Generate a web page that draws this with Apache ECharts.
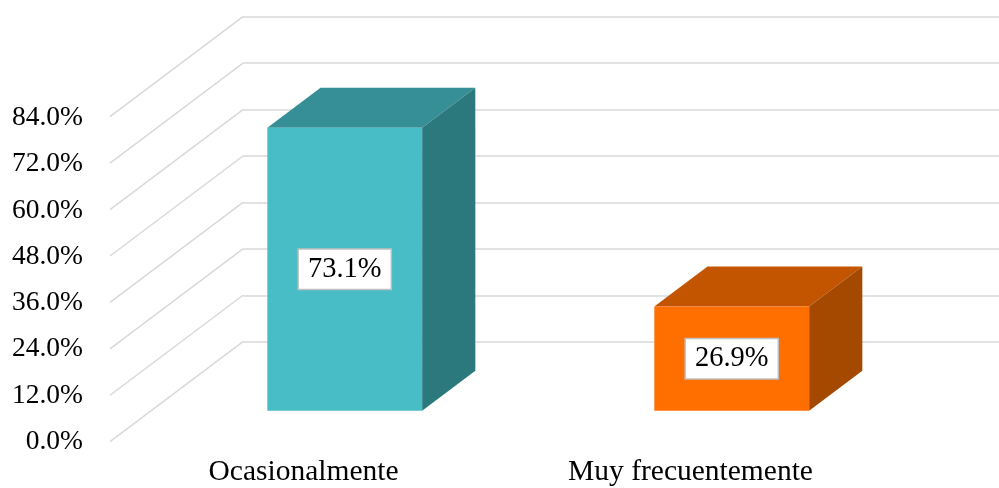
<!DOCTYPE html>
<html>
<head>
<meta charset="utf-8">
<script src="https://cdn.jsdelivr.net/npm/echarts@6/dist/echarts.min.js"></script>
<style>html,body{margin:0;padding:0;background:#fff}#c{width:999px;height:488px}</style>
</head>
<body>
<div id="c"></div>
<script>
const categories = ['Ocasionalmente', 'Muy frecuentemente'];
const values = [73.1, 26.9];
const yTicks = [0, 12, 24, 36, 48, 60, 72, 84];
const yTickLabels = ['0.0%', '12.0%', '24.0%', '36.0%', '48.0%', '60.0%', '72.0%', '84.0%'];

// styles
const faceColors = ['#49BDC6', '#FF6F00'];
const topColors = ['#368F96', '#C45500'];
const sideColors = ['#2C797D', '#A54800'];
const gridColor = '#D9D9D9';
const FONT = '"Liberation Serif", "Times New Roman", serif';
const DX = -133, DY = 100;      // depth vector (back wall -> front)
const FRONT = 0.69, BACK = 0.29; // bar depth fractions

const chart = echarts.init(document.getElementById('c'), null, {renderer: 'canvas'});
chart.setOption({
  backgroundColor: '#fff',
  animation: false,
  grid: [
    {left: 243, top: 16.7, width: 774, height: 325, outerBoundsMode: 'none', containLabel: false},
    {left: 110, top: 117.8, width: 774, height: 324, outerBoundsMode: 'none', containLabel: false}
  ],
  xAxis: [
    {type: 'category', data: categories, gridIndex: 0, show: false},
    {type: 'category', data: categories, gridIndex: 1,
     axisLine: {show: false}, axisTick: {show: false},
     axisLabel: {fontFamily: FONT, fontSize: 29.5, color: '#000', margin: 15}}
  ],
  yAxis: [
    {type: 'value', gridIndex: 0, min: 0, max: 84, interval: 12,
     axisLabel: {show: false}, axisLine: {show: false}, axisTick: {show: false},
     splitLine: {lineStyle: {color: gridColor, width: 1.5}}},
    {type: 'value', gridIndex: 1, min: 0, max: 84, interval: 12,
     axisLine: {show: false}, axisTick: {show: false}, splitLine: {show: false},
     axisLabel: {fontFamily: FONT, fontSize: 27.5, color: '#000', margin: 27,
       formatter: function (v) { const k = yTicks.indexOf(v); return k >= 0 ? yTickLabels[k] : ''; }}}
  ],
  series: [
    {
      type: 'custom', xAxisIndex: 0, yAxisIndex: 0, silent: true, z: 1,
      data: yTicks.map(v => [0, v]),
      renderItem: function (params, api) {
        const p = api.coord([0, api.value(1)]);
        const x = params.coordSys.x;
        return {type: 'line', shape: {x1: x, y1: p[1], x2: x + DX, y2: p[1] + DY},
                style: {stroke: gridColor, lineWidth: 1.5}};
      }
    },
    {
      type: 'custom', xAxisIndex: 0, yAxisIndex: 0, z: 5,
      data: values.map((v, i) => [i, v]),
      renderItem: function (params, api) {
        const i = api.value(0), v = api.value(1);
        const top = api.coord([i, v]);
        const base = api.coord([i, 0]);
        const bw = api.size([1, 0])[0] * 0.4;
        const x0 = top[0] - bw / 2, x1 = top[0] + bw / 2;
        const fx = DX * FRONT, fy = DY * FRONT, bx = DX * BACK, by = DY * BACK;
        const yt = top[1], yb = base[1];
        return {
          type: 'group',
          children: [
            {type: 'polygon', shape: {points: [[x0 + bx, yt + by], [x1 + bx, yt + by], [x1 + fx, yt + fy], [x0 + fx, yt + fy]]},
             style: {fill: topColors[i]}},
            {type: 'polygon', shape: {points: [[x1 + fx, yt + fy], [x1 + bx, yt + by], [x1 + bx, yb + by], [x1 + fx, yb + fy]]},
             style: {fill: sideColors[i]}},
            {type: 'rect', shape: {x: x0 + fx, y: yt + fy, width: bw, height: yb - yt},
             style: {fill: faceColors[i]}},
            {type: 'text', x: x0 + fx + bw / 2, y: (yt + yb) / 2 + fy,
             style: {text: values[i].toFixed(1) + '%', fill: '#000', fontSize: 28.5, fontFamily: FONT,
                     align: 'center', verticalAlign: 'middle',
                     backgroundColor: '#fff', borderColor: '#BFBFBF', borderWidth: 1.5,
                     padding: [5, 9, 5, 9]}}
          ]
        };
      }
    }
  ]
});
</script>
</body>
</html>
